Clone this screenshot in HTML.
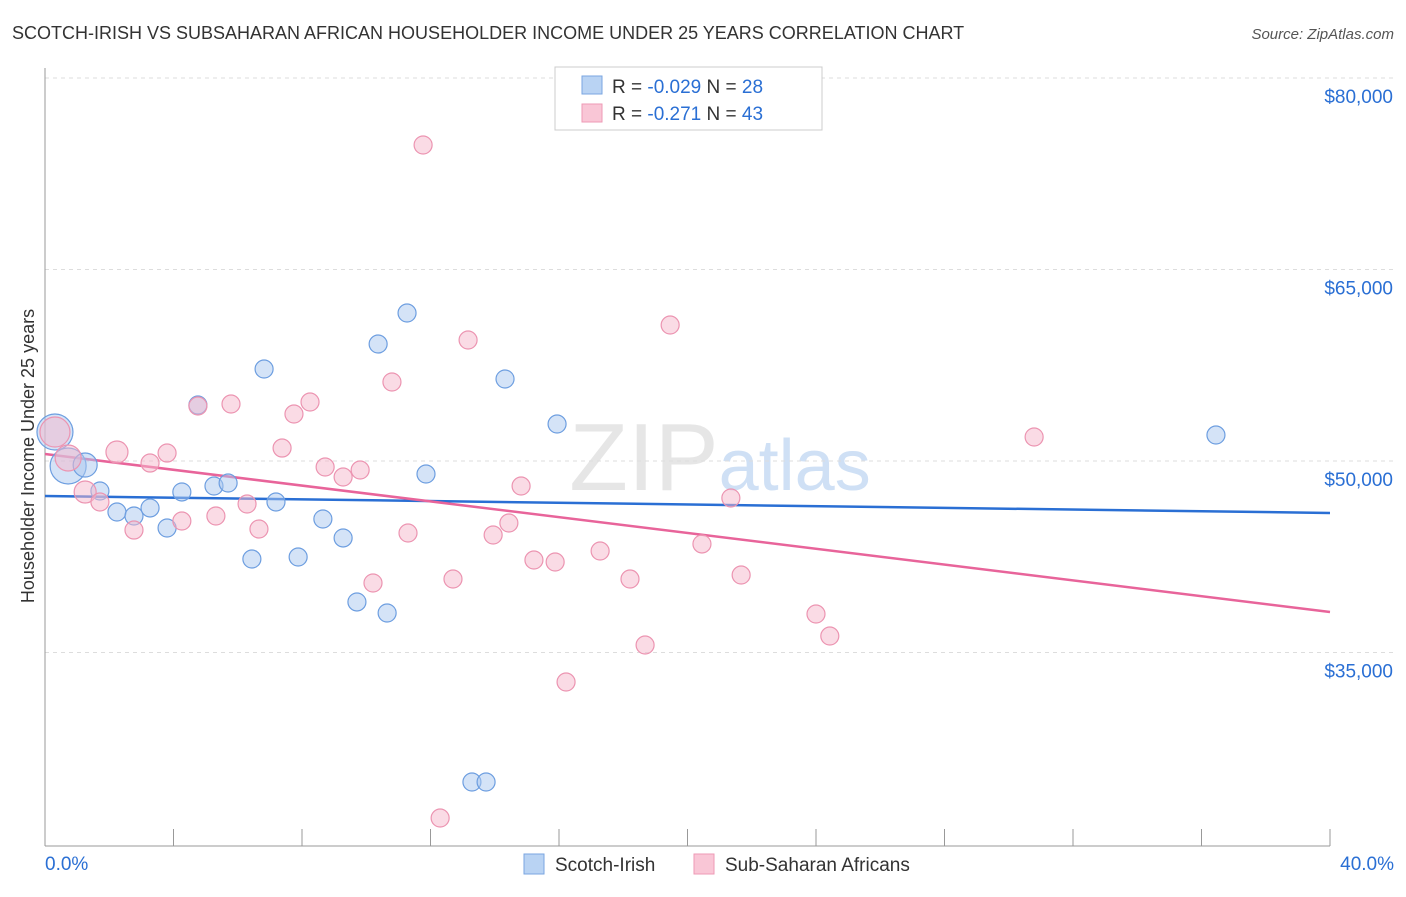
<!DOCTYPE html>
<html><head><meta charset="utf-8"><style>
body{margin:0;background:#fff;font-family:"Liberation Sans",sans-serif}
svg text{font-family:"Liberation Sans",sans-serif}
</style></head><body>
<svg id="chart" width="1406" height="892" xmlns="http://www.w3.org/2000/svg">
<text x="12" y="39" font-size="18" fill="#333">SCOTCH-IRISH VS SUBSAHARAN AFRICAN HOUSEHOLDER INCOME UNDER 25 YEARS CORRELATION CHART</text>
<text x="1394" y="39" font-size="15" fill="#555" text-anchor="end" font-style="italic">Source: ZipAtlas.com</text>
<text x="720" y="490" font-size="96" fill="#e6e6e6" text-anchor="middle" font-family="Liberation Serif">ZIP<tspan fill="#cfe0f5" font-family="Liberation Sans" font-size="72">atlas</tspan></text>
<text transform="translate(34,456) rotate(-90)" font-size="18" fill="#333" text-anchor="middle">Householder Income Under 25 years</text>
<g id="grid"></g><g id="axes"></g><g id="trends"></g><g id="points"></g>
<g>
<rect x="555" y="67" width="267" height="63" fill="#fff" stroke="#ccc"/>
<rect x="582" y="76" width="20" height="18" fill="#b9d3f3" stroke="#7aa6e0"/>
<text x="612" y="93" font-size="19" fill="#333">R = <tspan fill="#2a6fd4">-0.029</tspan>   N = <tspan fill="#2a6fd4">28</tspan></text>
<rect x="582" y="104" width="20" height="18" fill="#f9c6d6" stroke="#ee9ab5"/>
<text x="612" y="120" font-size="19" fill="#333">R =  <tspan fill="#2a6fd4">-0.271</tspan>   N = <tspan fill="#2a6fd4">43</tspan></text>
</g>
<g>
<rect x="524" y="854" width="20" height="20" fill="#b9d3f3" stroke="#7aa6e0"/>
<text x="555" y="871" font-size="19" fill="#333">Scotch-Irish</text>
<rect x="694" y="854" width="20" height="20" fill="#f9c6d6" stroke="#ee9ab5"/>
<text x="725" y="871" font-size="19" fill="#333">Sub-Saharan Africans</text>
</g>
</svg>
<script>
const yTicks=[80000,65000,50000,35000];
const yTickLabels=["$80,000","$65,000","$50,000","$35,000"];
const xTickLabels=["0.0%","40.0%"];
const blueX=[0.31,0.72,1.25,1.71,2.24,2.77,3.27,3.80,4.26,4.76,5.26,5.70,6.44,6.82,7.19,7.88,8.65,9.28,9.71,10.37,10.65,11.27,11.86,13.29,13.73,14.32,15.94,36.45];
const blueY=[52270,49608,49686,47650,46005,45692,46319,44752,47572,54386,48041,48276,42323,57206,46788,42480,45457,43969,38956,59164,38094,61592,48981,24856,24856,56423,52897,52036];
const blueR=[18,18,12,9,9,9,9,9,9,9,9,9,9,9,9,9,9,9,9,9,9,9,9,9,9,9,9,9];
const pinkX=[0.31,0.72,1.25,1.71,2.24,2.77,3.27,3.80,4.26,4.76,5.32,5.79,6.29,6.66,7.38,7.75,8.25,8.72,9.28,9.81,10.21,10.80,11.30,11.77,12.30,12.70,13.17,13.95,14.44,14.82,15.22,15.88,16.22,17.28,18.21,18.68,19.46,20.45,21.35,21.67,24.00,24.43,30.79];
const pinkY=[52270,50233,47572,46788,50703,44593,49841,50624,45300,54307,45692,54464,46632,44673,51016,53680,54620,49529,48746,49294,40444,56188,44360,74752,22036,40757,59477,44203,45143,48041,42245,42088,32688,42950,40757,35587,60652,43499,47102,41070,38015,36292,51880];
const pinkR=[15,13,11,9,11,9,9,9,9,9,9,9,9,9,9,9,9,9,9,9,9,9,9,9,9,9,9,9,9,9,9,9,9,9,9,9,9,9,9,9,9,9,9];
const blueTrend=[47260,45930];
const pinkTrend=[50550,38170];
const NS="http://www.w3.org/2000/svg";
const xs=v=>45+v/40*1285;
const ys=v=>78+(80000-v)/15000*191.5;
function mk(tag,attrs,parent){const e=document.createElementNS(NS,tag);for(const k in attrs)e.setAttribute(k,attrs[k]);document.getElementById(parent).appendChild(e);return e;}
yTicks.forEach((t,i)=>{
 const l=mk('line',{x1:45,x2:1394,y1:ys(t),y2:ys(t),stroke:'#ddd','stroke-dasharray':'4,4'},'grid');
 
 
 const tx=mk('text',{x:1393,y:ys(t)+25,'font-size':19,fill:'#2a6fd4','text-anchor':'end'},'grid');
 tx.textContent=yTickLabels[i];
 
 
});
const ax=mk('line',{x1:45,x2:45,y1:68,y2:846,stroke:'#999'},'axes');


const bx=mk('line',{x1:45,x2:1330,y1:846,y2:846,stroke:'#999'},'axes');


for(let i=1;i<=10;i++){const t=mk('line',{x1:xs(i*4),x2:xs(i*4),y1:829,y2:846,stroke:'#999'},'axes');
 
 }
[[0,'start',45],[40,'end',1394]].forEach((d,i)=>{const t=mk('text',{x:d[2],y:870,'font-size':19,fill:'#2a6fd4','text-anchor':d[1]},'axes');t.textContent=xTickLabels[i];
 
 });
function pts(X,Y,R,fill,stroke,name){X.forEach((x,i)=>{const c=mk('circle',{cx:xs(x),cy:ys(Y[i]),r:R[i],fill:fill,'fill-opacity':0.5,stroke:stroke,'stroke-width':1.2},'points');
 
 });}
pts(blueX,blueY,blueR,'#a9c8f0','#6d9ee0','scotch-irish-point');
pts(pinkX,pinkY,pinkR,'#f6b8cc','#ec94b1','sub-saharan-point');
const bl=mk('line',{x1:xs(0),x2:xs(40),y1:ys(blueTrend[0]),y2:ys(blueTrend[1]),stroke:'#2a6fd4','stroke-width':2.5},'trends');


const pl=mk('line',{x1:xs(0),x2:xs(40),y1:ys(pinkTrend[0]),y2:ys(pinkTrend[1]),stroke:'#e8649a','stroke-width':2.5},'trends');


</script>
</body></html>
